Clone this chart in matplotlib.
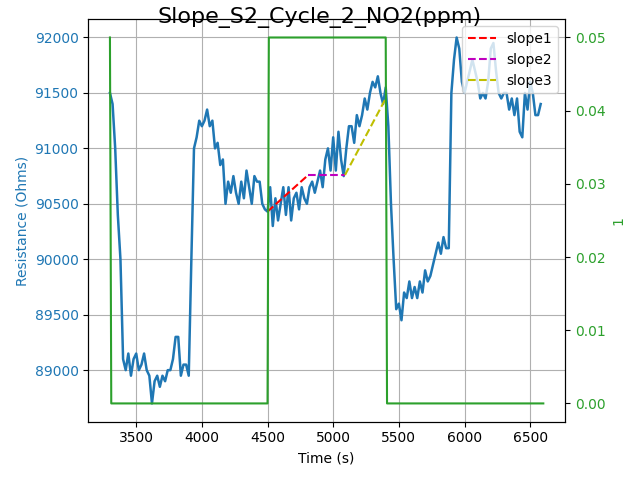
import numpy as np
import matplotlib
matplotlib.use("Agg")
import matplotlib.pyplot as plt

# resistance trace
time = np.arange(3300, 6600, 20)
resistance = [91500, 91400, 91000, 90400, 90000, 89100, 89000, 89150, 88950, 89100,
              89150, 89000, 89050, 89150, 89000, 88950, 88700, 88900, 88950, 88850,
              88950, 88900, 89000, 89000, 89100, 89300, 89300, 88950, 89050, 89050,
              88950, 90000, 91000, 91100, 91250, 91200, 91250, 91350, 91200, 91250,
              91000, 91050, 90850, 90900, 90500, 90700, 90600, 90750, 90600, 90500,
              90700, 90550, 90800, 90650, 90500, 90750, 90700, 90700, 90500, 90450,
              90430, 90650, 90300, 90550, 90350, 90500, 90650, 90400, 90650, 90350,
              90550, 90600, 90450, 90650, 90550, 90500, 90650, 90700, 90600, 90700,
              90800, 90650, 90900, 91000, 90800, 91100, 90800, 91150, 90900, 90750,
              91000, 91200, 91200, 91050, 91300, 91200, 91300, 91450, 91350, 91500,
              91600, 91550, 91650, 91500, 91400, 91550, 91200, 90500, 90000, 89550,
              89600, 89450, 89700, 89650, 89800, 89650, 89750, 89650, 89800, 89700,
              89900, 89800, 89850, 89950, 90050, 90150, 90050, 90200, 90100, 90100,
              91500, 91800, 92000, 91900, 91600, 91500, 91600, 91700, 91800, 91700,
              91600, 91450, 91500, 91450, 91600, 91900, 91950, 91700, 91500, 91450,
              91500, 91500, 91350, 91450, 91300, 91450, 91150, 91100, 91500, 91350,
              91600, 91500, 91300, 91300, 91400]

gas_t = [3300, 3310, 4500, 4510, 5400, 5410, 6600]
gas_c = [0.05, 0.0, 0.0, 0.05, 0.05, 0.0, 0.0]

slope1_t = [4500, 4810]
slope1_r = [90430, 90760]
slope2_t = [4810, 5090]
slope2_r = [90760, 90760]
slope3_t = [5090, 5400]
slope3_r = [90760, 91450]

fig, ax1 = plt.subplots(figsize=(6.4, 4.8))
ax1.plot(time, resistance, color='tab:blue', linewidth=1.8)
ax1.set_xlabel('Time (s)')
ax1.set_ylabel('Resistance (Ohms)', color='tab:blue')
ax1.tick_params(axis='y', labelcolor='tab:blue')
ax1.grid(True)

l1, = ax1.plot(slope1_t, slope1_r, 'r--', label='slope1')
l2, = ax1.plot(slope2_t, slope2_r, 'm--', label='slope2')
l3, = ax1.plot(slope3_t, slope3_r, 'y--', label='slope3')

ax2 = ax1.twinx()
ax2.plot(gas_t, gas_c, color='tab:green')
ax2.set_ylabel('1', color='tab:green')
ax2.tick_params(axis='y', labelcolor='tab:green')
ax2.legend(handles=[l1, l2, l3], loc='upper right')

fig.suptitle('Slope_S2_Cycle_2_NO2(ppm)', fontsize=16, y=0.985)
fig.tight_layout()
fig.subplots_adjust(top=0.96)
fig.savefig('out.png', dpi=100)
